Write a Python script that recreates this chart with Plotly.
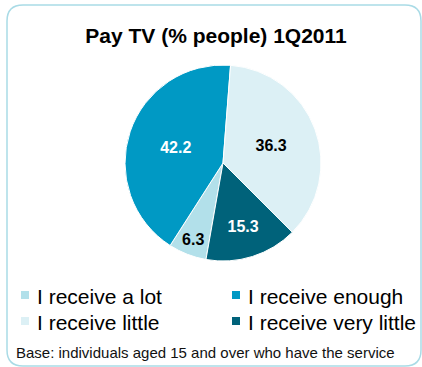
import plotly.graph_objects as go

labels = ["I receive a lot", "I receive enough", "I receive little", "I receive very little"]
values = [6.3, 42.2, 36.3, 15.3]
colors = ["#b2e0ea", "#0099c4", "#dcf0f5", "#00627a"]
text_colors = ["#000000", "#ffffff", "#000000", "#ffffff"]

W, H = 422, 367

def px(x):
    return x / W

def py(y):
    return 1 - y / H

fig = go.Figure()
fig.add_trace(go.Pie(
    labels=labels,
    values=values,
    sort=False,
    direction="clockwise",
    rotation=190,
    marker=dict(colors=colors, line=dict(color="white", width=1)),
    texttemplate="%{value:.1f}",
    textposition="inside",
    insidetextorientation="horizontal",
    textfont=dict(family="Liberation Sans, Arial", size=16, color=text_colors, weight="bold"),
    domain=dict(x=[px(125), px(321)], y=[py(261), py(65)]),
    hoverinfo="skip",
    showlegend=False,
))

# rounded border
x0, y0, x1, y1, r = 7, 5, 421, 366, 16
path = (
    f"M {px(x0+r)},{py(y0)} L {px(x1-r)},{py(y0)} Q {px(x1)},{py(y0)} {px(x1)},{py(y0+r)} "
    f"L {px(x1)},{py(y1-r)} Q {px(x1)},{py(y1)} {px(x1-r)},{py(y1)} "
    f"L {px(x0+r)},{py(y1)} Q {px(x0)},{py(y1)} {px(x0)},{py(y1-r)} "
    f"L {px(x0)},{py(y0+r)} Q {px(x0)},{py(y0)} {px(x0+r)},{py(y0)} Z"
)
fig.add_shape(type="path", path=path, xref="paper", yref="paper",
              line=dict(color="#a9dbe6", width=1.5), layer="below")

# legend (2 columns, row-wise order)
col_x = [21, 232]
row_y = [295, 321]
for i, (lab, col) in enumerate(zip(labels, colors)):
    cx = col_x[i % 2]
    cy = row_y[i // 2]
    fig.add_shape(type="rect", xref="paper", yref="paper",
                  x0=px(cx), x1=px(cx + 8), y0=py(cy + 4), y1=py(cy - 4),
                  fillcolor=col, line=dict(width=0))
    fig.add_annotation(
        text=lab, x=px(cx + 14), y=py(cy + 1.5), xref="paper", yref="paper",
        xanchor="left", yanchor="middle", showarrow=False,
        font=dict(family="Liberation Sans, Arial", size=21, color="#000000"),
    )

fig.add_annotation(
    text="Base: individuals aged 15 and over who have the service",
    x=px(14), y=py(352), xref="paper", yref="paper",
    xanchor="left", yanchor="middle", showarrow=False,
    font=dict(family="Liberation Sans, Arial", size=15, color="#111111"),
)

fig.update_layout(
    width=W, height=H,
    margin=dict(l=0, r=0, t=0, b=0),
    paper_bgcolor="white",
    plot_bgcolor="white",
    title=dict(
        text="<b>Pay TV (% people) 1Q2011</b>",
        x=px(216), xanchor="center",
        y=py(36), yanchor="middle", yref="container",
        font=dict(family="Liberation Sans, Arial", size=21, color="#000000"),
    ),
    showlegend=False,
)

fig.write_html("out.html")
